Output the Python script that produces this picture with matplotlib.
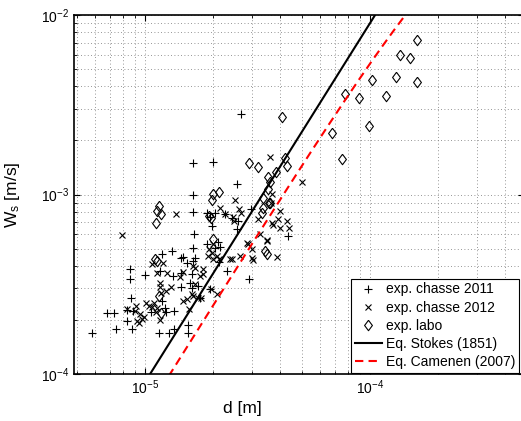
import numpy as np
import matplotlib
matplotlib.use('Agg')
from matplotlib import pyplot as plt

plt.rcParams['font.family'] = ['Liberation Sans', 'DejaVu Sans']
plt.rcParams['mathtext.fontset'] = 'custom'
plt.rcParams['mathtext.rm'] = 'Liberation Sans'
plt.rcParams['mathtext.it'] = 'Liberation Sans'

# diametres en micrometres, vitesses de chute en mm/s
d_2011 = [26.7, 16.35, 20.05, 25.6, 16.35, 16.35, 18.8, 19.45, 19.85, 29.6, 20.45, 22.7, 24.35,
          25.9, 25.6, 16.5, 18.8, 20.45, 13.2, 11.9, 14.5, 8.58, 8.58, 10.0, 11.7, 13.3, 14.5,
          14.5, 8.67, 16.2, 16.35, 14.75, 16.7, 15.4, 21.5, 21.1, 21.3, 23.15, 19.45, 29.0,
          43.2, 17.6, 11.9, 12.3, 8.32, 8.84, 6.78, 7.32, 7.43, 8.32, 8.75, 10.6, 12.4, 13.5,
          11.5, 12.8, 13.5, 15.5, 15.5, 5.81, 16.35, 15.85, 17.2, 16.2]
w_2011 = [2.80, 1.49, 1.51, 1.15, 1.0, 0.804, 0.793, 0.754, 0.671, 0.825, 0.793, 0.783, 0.744,
          0.716, 0.646, 0.605, 0.532, 0.506, 0.486, 0.468, 0.445, 0.386, 0.339, 0.357, 0.376,
          0.353, 0.367, 0.306, 0.266, 0.302, 0.506, 0.450, 0.445, 0.417, 0.512, 0.546, 0.422,
          0.376, 0.298, 0.339, 0.590, 0.266, 0.256, 0.234, 0.228, 0.225, 0.219, 0.219, 0.178,
          0.198, 0.178, 0.222, 0.222, 0.225, 0.169, 0.169, 0.178, 0.188, 0.169, 0.169, 0.428,
          0.322, 0.310, 0.362]

d_2012 = [35.9, 49.8, 36.7, 13.7, 7.90, 25.1, 21.5, 22.7, 26.2, 26.7, 24.6, 24.8, 31.8, 36.7,
          39.0, 39.8, 42.8, 39.8, 37.0, 43.6, 34.8, 38.6, 36.3, 20.05, 19.25, 19.85, 20.9, 19.05,
          20.05, 21.3, 16.7, 16.35, 18.1, 18.1, 17.6, 24.35, 16.7, 16.2, 16.35, 17.2, 20.9, 30.2,
          29.9, 28.4, 28.7, 32.4, 34.8, 29.9, 23.8, 26.4, 19.65, 14.75, 15.4, 17.7, 15.7, 12.0,
          10.8, 11.3, 11.7, 12.6, 14.3, 14.75, 11.7, 13.0, 12.4, 11.8, 10.1, 10.4, 10.96, 11.3,
          11.2, 9.12, 9.21, 9.40, 9.69, 9.90, 11.7, 8.32, 9.03, 9.50, 10.7]
w_2012 = [1.61, 1.17, 1.01, 0.783, 0.598, 0.926, 0.846, 0.783, 0.835, 0.793, 0.754, 0.716, 0.735,
          0.698, 0.735, 0.654, 0.716, 0.814, 0.680, 0.654, 0.561, 0.450, 0.891, 0.532, 0.499,
          0.474, 0.456, 0.456, 0.439, 0.439, 0.391, 0.401, 0.386, 0.362, 0.353, 0.439, 0.318,
          0.280, 0.273, 0.266, 0.280, 0.433, 0.445, 0.539, 0.532, 0.605, 0.553, 0.499, 0.439,
          0.456, 0.298, 0.256, 0.262, 0.266, 0.231, 0.417, 0.411, 0.367, 0.322, 0.367, 0.348,
          0.371, 0.306, 0.306, 0.291, 0.283, 0.249, 0.240, 0.249, 0.234, 0.222, 0.240, 0.198,
          0.193, 0.203, 0.208, 0.200, 0.231, 0.225, 0.216, 0.237]

d_labo = [11.5, 11.3, 11.8, 11.2, 29.0, 31.8, 35.2, 38.3, 42.8, 41.9, 20.05, 21.3, 19.85, 35.2,
          35.9, 33.4, 35.55, 33.4, 33.1, 19.25, 19.65, 20.05, 11.1, 11.3, 11.5, 11.8, 34.1, 34.8,
          35.9, 40.6, 161.5, 136, 150, 130.5, 161.5, 101.7, 77.4, 89.1, 118, 98.6, 67.7, 74.9]
w_labo = [0.868, 0.814, 0.783, 0.698, 1.49, 1.415, 1.245, 1.33, 1.45, 1.59, 1.01, 1.03, 0.926,
          1.08, 1.17, 0.962, 0.891, 0.846, 0.793, 0.763, 0.744, 0.568, 0.439, 0.428, 0.273,
          0.219, 0.486, 0.468, 0.902, 2.69, 7.25, 5.98, 5.75, 4.50, 4.22, 4.33, 3.62, 3.44, 3.53,
          2.40, 2.19, 1.57]

# parametres physiques
rho_s, rho, g, nu = 2650., 1000., 9.81, 1e-6
A_cam, B_cam, m_cam = 36., 1.5, 1.5


def stokes(d):
    return (rho_s / rho - 1) * g * d ** 2 / (18 * nu)


def camenen(d):
    dstar = ((rho_s / rho - 1) * g / nu ** 2) ** (1. / 3) * d
    r = A_cam / B_cam
    return nu / d * (np.sqrt(0.25 * r ** (2. / m_cam) + (4 * dstar ** 3 / (3 * B_cam)) ** (1. / m_cam))
                     - 0.5 * r ** (1. / m_cam)) ** m_cam


def plot():
    fig = plt.figure(figsize=(5.21, 4.21), dpi=100)
    ax = fig.add_axes([74 / 521., 47 / 421., 450 / 521., 359 / 421.])

    losange = [(0, 1), (0.75, 0), (0, -1), (-0.75, 0), (0, 1)]

    ax.plot(np.array(d_2011) * 1e-6, np.array(w_2011) * 1e-3, '+', color='k', markersize=6,
            markeredgewidth=0.8, label='exp. chasse 2011')
    ax.plot(np.array(d_2012) * 1e-6, np.array(w_2012) * 1e-3, 'x', color='k', markersize=4,
            markeredgewidth=0.8, label='exp. chasse 2012')
    ax.plot(np.array(d_labo) * 1e-6, np.array(w_labo) * 1e-3, marker=losange, linestyle='none',
            color='k', markerfacecolor='none', markersize=7.5, markeredgewidth=0.8, label='exp. labo')

    dd = np.logspace(-6, -3, 300)
    ax.plot(dd, stokes(dd), '-', color='k', linewidth=1.5, label='Eq. Stokes (1851)')
    ax.plot(dd, camenen(dd), '--', color='r', linewidth=1.5, dashes=(4, 2.5), label='Eq. Camenen (2007)')

    ax.set_xscale('log')
    ax.set_yscale('log')
    ax.set_xlim(4.84e-6, 4.84e-4)
    ax.set_ylim(1e-4, 1e-2)

    ax.grid(True, which='both', color='0.45', linewidth=0.6, dashes=(1, 3))
    ax.tick_params(which='both', direction='in', top=True, right=True, labelsize=10)
    ax.tick_params(which='major', length=4)
    ax.tick_params(which='minor', length=2)
    for sp in ax.spines.values():
        sp.set_linewidth(1.2)

    ax.set_xlabel('d [m]', fontsize=12.5)
    ax.set_ylabel('W$_\\mathregular{s}$ [m/s]', fontsize=12.5)
    ax.xaxis.set_label_coords(0.375, -0.075)
    ax.yaxis.set_label_coords(-0.115, 0.5)

    leg = ax.legend(loc='lower right', fontsize=10, fancybox=False, edgecolor='k', framealpha=1,
                    borderaxespad=0.1, handlelength=2.0, handletextpad=0.25, labelspacing=0.3,
                    borderpad=0.25, bbox_to_anchor=(446 / 450., 0.0))
    leg.get_frame().set_linewidth(0.8)

    plt.savefig('out.png')
    plt.close()


plot()
